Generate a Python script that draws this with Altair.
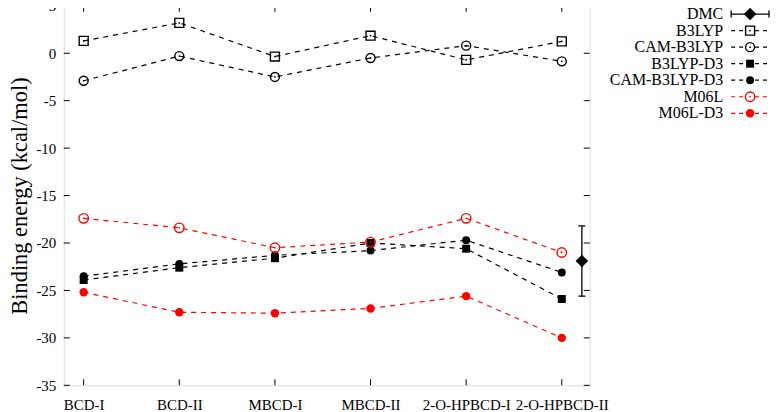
import json
import altair as alt
import pandas as pd

# ---------------- data ----------------
categories = ["BCD-I", "BCD-II", "MBCD-I", "MBCD-II", "2-O-HPBCD-I", "2-O-HPBCD-II"]
series_names = ["B3LYP", "CAM-B3LYP", "B3LYP-D3", "CAM-B3LYP-D3", "M06L", "M06L-D3"]

b3lyp = [1.3, 3.2, -0.35, 1.85, -0.7, 1.25]
cam_b3lyp = [-2.9, -0.3, -2.5, -0.5, 0.8, -0.85]
b3lyp_d3 = [-23.9, -22.6, -21.6, -20.0, -20.6, -25.9]
cam_b3lyp_d3 = [-23.5, -22.2, -21.3, -20.8, -19.7, -23.1]
m06l = [-17.4, -18.4, -20.5, -19.9, -17.4, -21.0]
m06l_d3 = [-25.2, -27.3, -27.4, -26.9, -25.6, -30.0]

dmc_label = "DMC"
dmc_position = 5.21
dmc_value = -21.9
dmc_error = 3.7

y_ticks = [5, 0, -5, -10, -15, -20, -25, -30, -35]
x_ticks = list(range(len(categories)))

series_values = [b3lyp, cam_b3lyp, b3lyp_d3, cam_b3lyp_d3, m06l, m06l_d3]

# ---------------- styles ----------------
W, H = 528, 381
FONT = "Liberation Serif"
styles = {
    "B3LYP": ("#000000", "square", False, 81),
    "CAM-B3LYP": ("#000000", "circle", False, 81),
    "B3LYP-D3": ("#000000", "square", True, 64),
    "CAM-B3LYP-D3": ("#000000", "circle", True, 64),
    "M06L": ("#ff0000", "circle", False, 90),
    "M06L-D3": ("#ff0000", "circle", True, 72),
}
DASH = [5, 5]

rows = []
for name, vals in zip(series_names, series_values):
    for i, v in enumerate(vals):
        rows.append({"series": name, "idx": i, "value": v})
df = pd.DataFrame(rows)

label_expr = json.dumps(categories) + "[datum.value]"

X = alt.X(
    "idx:Q",
    scale=alt.Scale(domain=[-0.208, 5.292], nice=False, zero=False),
    axis=alt.Axis(values=x_ticks, labelExpr=label_expr, title=None, grid=False,
                  ticks=False, tickSize=0, domain=False, labelFontSize=15,
                  labelPadding=12, labelOverlap=False, labelFlush=False,
                  labelColor="black", labelFont=FONT),
)
Y = alt.Y(
    "value:Q",
    scale=alt.Scale(domain=[-35, 5], nice=False, zero=False),
    axis=alt.Axis(values=y_ticks, labelExpr="'' + datum.value",
                  title="Binding energy (kcal/mol)", grid=False, ticks=False,
                  tickSize=0, domain=False, labelFontSize=15, labelPadding=8,
                  labelColor="black", labelFont=FONT, titleFont=FONT,
                  titleFontSize=22.5, titleFontWeight="normal", titleColor="black",
                  titlePadding=4),
)

main_layers = []

# inward ticks (gnuplot style)
yt = pd.DataFrame({"value": y_ticks})
xt = pd.DataFrame({"idx": x_ticks})
main_layers.append(alt.Chart(yt).mark_rule(color="black", strokeWidth=1).encode(
    x=alt.value(0), x2=alt.value(6), y=Y))
main_layers.append(alt.Chart(yt).mark_rule(color="black", strokeWidth=1).encode(
    x=alt.value(W - 6), x2=alt.value(W), y=Y))
main_layers.append(alt.Chart(xt).mark_rule(color="black", strokeWidth=1).encode(
    x=X, y=alt.value(H - 6), y2=alt.value(H)))
main_layers.append(alt.Chart(xt).mark_rule(color="black", strokeWidth=1).encode(
    x=X, y=alt.value(0), y2=alt.value(6)))

for name in series_names:
    color, shape, filled, size = styles[name]
    sub = df[df.series == name]
    main_layers.append(alt.Chart(sub).mark_line(
        color=color, strokeDash=DASH, strokeWidth=1.2).encode(x=X, y=Y))
for name in series_names:
    color, shape, filled, size = styles[name]
    sub = df[df.series == name]
    if filled:
        main_layers.append(alt.Chart(sub).mark_point(
            shape=shape, filled=True, size=size, color=color, opacity=1,
            strokeWidth=0).encode(x=X, y=Y))
    else:
        main_layers.append(alt.Chart(sub).mark_point(
            shape=shape, filled=False, size=size, color=color, opacity=1,
            strokeWidth=1.4).encode(x=X, y=Y))
        main_layers.append(alt.Chart(sub).mark_point(
            shape="circle", filled=True, size=3, color=color, opacity=1,
            strokeWidth=0).encode(x=X, y=Y))

# DMC with error bar
dmc_df = pd.DataFrame({"idx": [dmc_position], "value": [dmc_value],
                       "lo": [dmc_value - dmc_error], "hi": [dmc_value + dmc_error]})
caps_df = pd.DataFrame({"idx": [dmc_position, dmc_position],
                        "value": [dmc_value - dmc_error, dmc_value + dmc_error]})
main_layers.append(alt.Chart(dmc_df).mark_rule(color="black", strokeWidth=1.3).encode(
    x=X, y=alt.Y("lo:Q"), y2="hi:Q"))
main_layers.append(alt.Chart(caps_df).mark_point(
    shape="M-1,0L1,0", size=49, filled=False, color="black", opacity=1,
    strokeWidth=1.3).encode(x=X, y=Y))
main_layers.append(alt.Chart(dmc_df).mark_point(
    shape="diamond", size=160, filled=True, color="black", opacity=1,
    strokeWidth=0).encode(x=X, y=Y))

main = alt.layer(*main_layers)

# ---------------- legend ----------------
legend_names = [dmc_label] + series_names
leg_df = pd.DataFrame({"name": legend_names, "row": list(range(len(legend_names)))})
LY = alt.Y("row:Q", scale=alt.Scale(domain=[-0.5, 22.45], reverse=True, nice=False,
                                     zero=False), axis=None)
TX, S0, S1, SM = 662, 670, 708, 689

legend_layers = [
    alt.Chart(leg_df).mark_text(align="right", baseline="middle", fontSize=16,
                                font=FONT, color="black").encode(
        x=alt.value(TX), y=LY, text="name:N")
]
dmc_leg = leg_df[leg_df.name == dmc_label]
legend_layers.append(alt.Chart(dmc_leg).mark_rule(color="black", strokeWidth=1.3).encode(
    x=alt.value(S0), x2=alt.value(S1), y=LY))
for xv in (S0, S1):
    legend_layers.append(alt.Chart(dmc_leg).mark_point(
        shape="M0,-1L0,1", size=49, filled=False, color="black", opacity=1,
        strokeWidth=1.3).encode(x=alt.value(xv), y=LY))
legend_layers.append(alt.Chart(dmc_leg).mark_point(
    shape="diamond", size=160, filled=True, color="black", opacity=1,
    strokeWidth=0).encode(x=alt.value(SM), y=LY))

for name in series_names:
    color, shape, filled, size = styles[name]
    sub = leg_df[leg_df.name == name]
    legend_layers.append(alt.Chart(sub).mark_rule(
        color=color, strokeDash=[4, 4], strokeWidth=1.2).encode(
        x=alt.value(S0), x2=alt.value(S1), y=LY))
    if filled:
        legend_layers.append(alt.Chart(sub).mark_point(
            shape=shape, filled=True, size=size, color=color, opacity=1,
            strokeWidth=0).encode(x=alt.value(SM), y=LY))
    else:
        legend_layers.append(alt.Chart(sub).mark_point(
            shape=shape, filled=True, size=size, color="white", opacity=1,
            strokeWidth=0).encode(x=alt.value(SM), y=LY))
        legend_layers.append(alt.Chart(sub).mark_point(
            shape=shape, filled=False, size=size, color=color, opacity=1,
            strokeWidth=1.4).encode(x=alt.value(SM), y=LY))
        legend_layers.append(alt.Chart(sub).mark_point(
            shape="circle", filled=True, size=3, color=color, opacity=1,
            strokeWidth=0).encode(x=alt.value(SM), y=LY))

legend = alt.layer(*legend_layers)

chart = alt.layer(main, legend).resolve_scale(y="independent").properties(
    width=W, height=H,
    padding={"top": -10, "left": 1, "right": 0, "bottom": 0},
    background="white",
).configure_view(stroke="black", strokeWidth=1.2).configure(font=FONT)

chart.save("out.html", embed_options={"renderer": "svg", "actions": False})
